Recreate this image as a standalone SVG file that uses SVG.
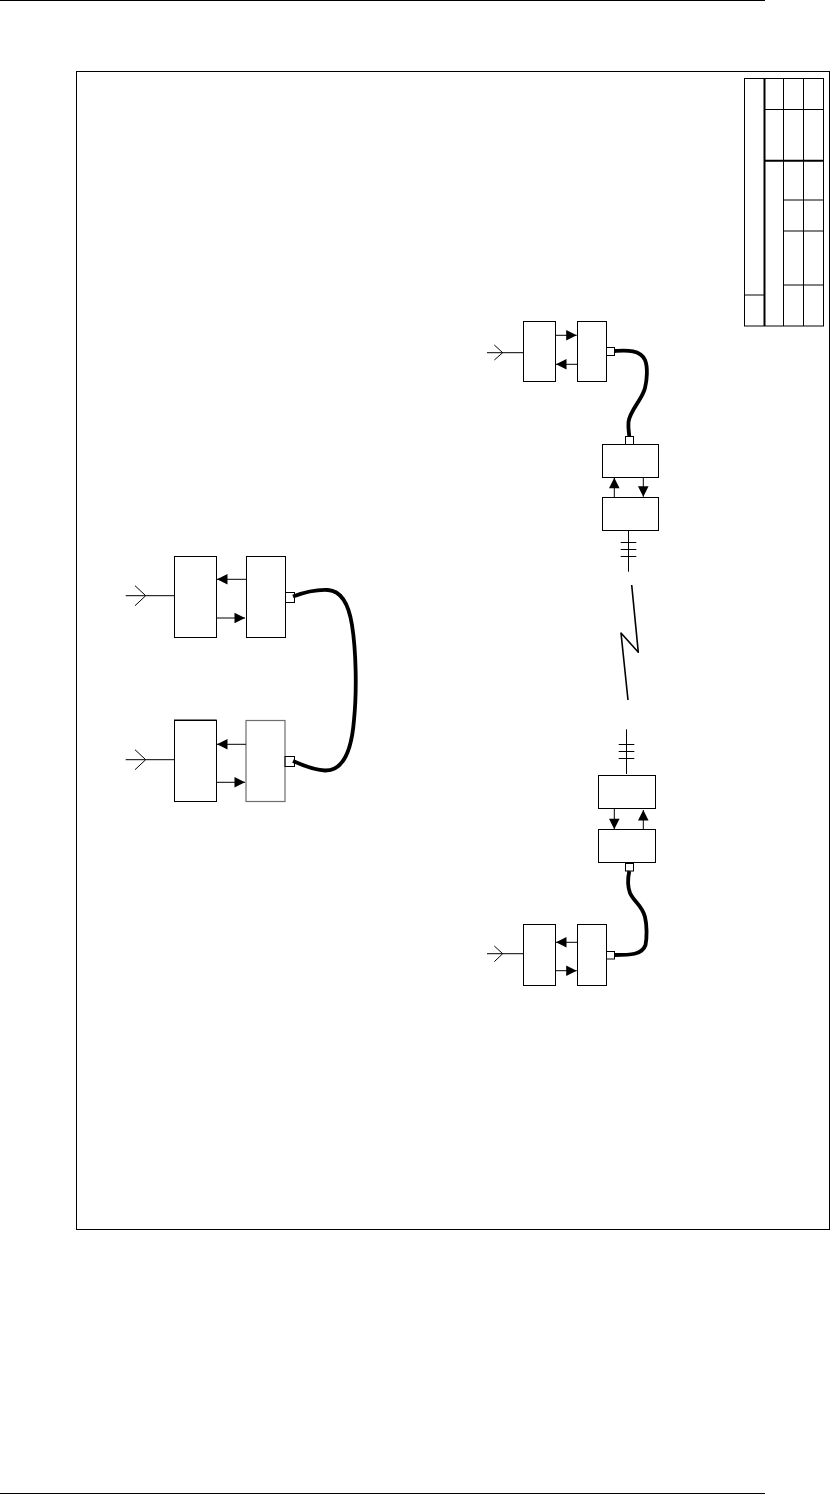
<svg xmlns="http://www.w3.org/2000/svg" width="830" height="1494" viewBox="0 0 830 1494">
<style>
.box{fill:#fff;stroke:#000;stroke-width:1}
.gbox{fill:#fff;stroke:#6e6e6e;stroke-width:1.2}
.ln{fill:none;stroke:#000;stroke-width:1}
.tick{fill:none;stroke:#000;stroke-width:1.1}
.cable{fill:none;stroke:#000;stroke-width:3.8;stroke-linecap:butt;stroke-linejoin:round}
.bolt{fill:none;stroke:#000;stroke-width:1.6;stroke-linejoin:round}
.thick{fill:none;stroke:#000;stroke-width:2}
</style>
<defs>
<polygon id="ar" points="0,0 -10.5,-5.3 -10.5,5.3" fill="#000"/>
</defs>
<rect width="830" height="1494" fill="#fff"/>
<g id="page-rules">
<path class="ln" d="M0,0.5H765M0,1493.5H765"/>
</g>
<rect id="frame" x="76.5" y="71.5" width="753" height="1158" class="ln"/>
<g id="legend-table">
<rect x="744.5" y="78.5" width="79" height="247.5" class="ln"/>
<path class="ln" d="M783.5,78.5V326M803.5,78.5V326M764,109.5H823.5M783.5,200H823.5M783.5,231H823.5M783.5,285H823.5M744.5,295H764"/>
<path class="thick" d="M764.5,78.5V326M764,160.7H823.5"/>
</g>
<g id="left-upper-antenna"><path class="ln" d="M125.7,595.7H174.3M135,585.7L145.7,595.7L135,605.7"/></g>
<g id="left-upper-a"><rect class="box" x="174.5" y="556.5" width="42" height="81"/></g>
<g id="left-upper-b"><rect class="box" x="246.5" y="556.5" width="39" height="81"/></g>
<g id="left-upper-port"><rect class="ln" x="285.5" y="592.5" width="9" height="10"/></g>
<g id="left-lower-antenna"><path class="ln" d="M125.7,759.7H174.3M135,749.7L145.7,759.7L135,769.7"/></g>
<g id="left-lower-a"><rect class="box" x="174.5" y="720.5" width="42" height="81"/><path d="M174,720.3H216.7" stroke="#000" stroke-width="1.6"/></g>
<g id="left-lower-b"><rect class="gbox" x="246" y="720.5" width="39" height="81"/></g>
<g id="left-lower-port"><rect class="ln" x="285" y="756.5" width="9.5" height="10"/></g>
<g id="top-antenna"><path class="ln" d="M487,352.7H523.3M494.3,345L502.7,352.7L494.3,360"/></g>
<g id="top-a"><rect class="box" x="523.5" y="321.5" width="32" height="60"/></g>
<g id="top-b"><rect class="box" x="577.5" y="321.5" width="29" height="60"/></g>
<g id="top-port"><rect class="box" x="606.5" y="347.5" width="8" height="8"/></g>
<g id="top-radio-port"><rect class="box" x="625.5" y="436.5" width="8" height="8"/></g>
<g id="top-radio-c"><rect class="box" x="602.5" y="444.5" width="56" height="33"/></g>
<g id="top-radio-d"><rect class="box" x="602.5" y="497.5" width="56" height="33"/></g>
<g id="top-mast"><path class="ln" d="M628.5,530.5V571.7"/><path class="tick" d="M620.7,542.5H636.3M620.7,549.5H636.3M620.7,556.5H636.3"/></g>
<g id="radio-link"><path class="bolt" d="M631.7,585L638.3,652.3L621,633L628,700"/></g>
<g id="bottom-mast"><path class="ln" d="M626.5,729.3V774"/><path class="tick" d="M618.7,744.5H634.3M618.7,751.5H634.3M618.7,758.5H634.3"/></g>
<g id="bottom-radio-e"><rect class="box" x="598.5" y="775.5" width="57" height="33"/></g>
<g id="bottom-radio-f"><rect class="box" x="598.5" y="829.5" width="57" height="33"/></g>
<g id="bottom-radio-port"><rect class="box" x="625.5" y="863.5" width="8" height="7.5"/></g>
<g id="bottom-antenna"><path class="ln" d="M487,953.7H523.3M494.3,946L502.7,953.7L494.3,961.7"/></g>
<g id="bottom-a"><rect class="box" x="523.5" y="924.5" width="32" height="61"/></g>
<g id="bottom-b"><rect class="box" x="577.5" y="924.5" width="29" height="61"/></g>
<g id="bottom-port"><rect class="box" x="606.5" y="951.5" width="8" height="7.5"/></g>
<g id="connectors">
<path class="cable" d="M293,596.5C305,592 318,589.5 328,590C342,591 349,606 352,625C356,650 357,690 354,720C352,745 346,771 325,770.5C314,770 302,765 293,761"/>
<path class="cable" d="M614.7,351C625,350.5 640,349 645,360C648,367 647,380 645,388C642,400 630,410 628.5,422C628,428 629,432 629.3,436.7"/>
<path class="cable" d="M629.3,871C628,877 627,885 630,893C634,902 642,905 645,917C647,925 647,938 645.5,945C642,955 630,955 614.7,955"/>
<path class="ln" d="M246.3,579.3H217M216.7,618H245M246,744.3H217M216.7,782.3H245"/>
<path class="ln" d="M555.7,335.3H576.7M577.3,364.3H556M614.3,497.3V478M643.3,477.3V496.7"/>
<path class="ln" d="M614.3,808.3V829M643.3,829.3V810M577.3,942.3H556M555.7,970.7H576.7"/>
<use href="#ar" transform="translate(217,579.3) rotate(180)"/>
<use href="#ar" transform="translate(245,618)"/>
<use href="#ar" transform="translate(217,744.3) rotate(180)"/>
<use href="#ar" transform="translate(245,782.3)"/>
<use href="#ar" transform="translate(576.7,335.3)"/>
<use href="#ar" transform="translate(556,364.3) rotate(180)"/>
<use href="#ar" transform="translate(614.3,477.7) rotate(-90)"/>
<use href="#ar" transform="translate(643.3,496.7) rotate(90)"/>
<use href="#ar" transform="translate(614.3,829.3) rotate(90)"/>
<use href="#ar" transform="translate(643.3,810) rotate(-90)"/>
<use href="#ar" transform="translate(556,942.3) rotate(180)"/>
<use href="#ar" transform="translate(576.7,970.7)"/>
</g>
</svg>
